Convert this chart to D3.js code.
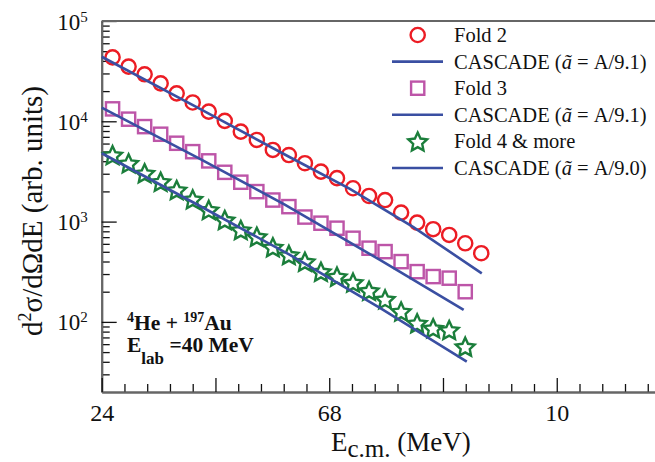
<!DOCTYPE html>
<html>
<head>
<meta charset="utf-8">
<script src="https://cdn.jsdelivr.net/npm/d3@7"></script>
<style>
  body { margin: 0; background: #fff; }
  svg { display: block; font-family: "Liberation Serif", "Times New Roman", serif; }
</style>
</head>
<body>
<div id="chart"></div>
<script>
//data
const energy = [26.1, 29.2, 32.3, 35.4, 38.5, 41.6, 44.7, 47.8, 50.9, 54.0, 57.1, 60.2,
  63.3, 66.4, 69.5, 72.6, 75.7, 78.8, 81.9, 85.0, 88.1, 91.2, 94.3, 97.4];
const fold2 = [43400, 35100, 29400, 23900, 19000, 15400, 12500, 10100, 7890, 6520, 5180, 4610,
  3820, 3150, 2710, 2150, 1800, 1640, 1230, 977, 840, 736, 608, 484];
const fold3 = [13300, 10500, 8850, 7430, 6040, 4980, 4030, 3100, 2470, 1990, 1640, 1410,
  1110, 964, 859, 682, 543, 502, 399, 317, 283, 273, 200];
const fold4 = [4610, 3820, 3040, 2500, 2070, 1670, 1310, 1040, 826, 708, 556, 466,
  399, 317, 283, 247, 205, 168, 127, 97, 86.5, 83.2, 56.7];

const cascadeE2 = [24, 43.0, 60.4, 72.0, 84.2, 97.5];
const cascade2 = [44000, 13300, 4380, 2120, 885, 305];
const cascadeE3 = [24, 43.0, 59.4, 77.8, 94.0];
const cascade3 = [13700, 4220, 1480, 415, 132];
const cascadeE4 = [24, 43.0, 60.4, 77.8, 94.6];
const cascade4 = [4800, 1430, 466, 138, 40.2];

const xMajorTicks = [24, 46, 68, 90, 112];
const xTickLabels = ["24", "", "68", "", "10"];
const yMajorTicks = [1e2, 1e3, 1e4, 1e5];
const yTickExponents = ["2", "3", "4", "5"];
const legendLabels = ["Fold 2", "CASCADE (ã = A/9.1)", "Fold 3", "CASCADE (ã = A/9.1)",
  "Fold 4 & more", "CASCADE (ã = A/9.0)"];

// outline star with fatter arms than d3.symbolStar
const fatStar = {
  draw(context, size) {
    const r = Math.sqrt(size) * 0.85, ri = r * 0.48;
    for (let k = 0; k < 10; k++) {
      const a = -Math.PI / 2 + k * Math.PI / 5, rr = k % 2 ? ri : r;
      k ? context.lineTo(rr * Math.cos(a), rr * Math.sin(a)) : context.moveTo(rr * Math.cos(a), rr * Math.sin(a));
    }
    context.closePath();
  }
};

function drawChart(cWidth, cHeight) {
  const margin = { left: 101.7, top: 21, right: 0, bottom: 70 },
    colors = { red: "#ec1c24", magenta: "#bd55a8", green: "#1b7e3b", blue: "#3a4fa2", frame: "#666" },
    serif = "Liberation Serif, Times New Roman, serif",
    nb = "\u00a0",
    svg = d3.select("#chart").append("svg")
      .attr("width", cWidth)
      .attr("height", cHeight);

  const x = d3.scaleLinear().domain([24, 131]).range([margin.left, cWidth - margin.right]),
    y = d3.scaleLog().domain([20, 1e5]).range([cHeight - margin.bottom, margin.top]);

  // minor / major ticks
  const yMinor = [];
  [10, 100, 1000, 10000].forEach(p => d3.range(2, 10).forEach(k => {
    if (k * p > 20 && k * p < 1e5) yMinor.push(k * p);
  }));
  const xMinor = d3.range(24, 131, 4.4).filter(v => !xMajorTicks.some(m => Math.abs(m - v) < 0.1));

  const styleAxis = g => {
    g.attr("font-family", serif);
    g.select(".domain").attr("stroke", colors.frame).attr("stroke-width", 2);
    g.selectAll(".tick line").attr("stroke", "#111").attr("stroke-width", 1.3);
  };

  svg.append("g")
    .attr("transform", `translate(${margin.left},0)`)
    .call(d3.axisLeft(y).tickValues(yMinor).tickSize(-8).tickSizeOuter(0).tickFormat(""))
    .call(styleAxis);
  const yAxis = svg.append("g")
    .attr("transform", `translate(${margin.left},0)`)
    .call(d3.axisLeft(y).tickValues(yMajorTicks).tickSize(-15).tickSizeOuter(0).tickFormat(""))
    .call(styleAxis);
  yAxis.selectAll(".tick text").remove();
  yAxis.selectAll(".tick").each(function (d, i) {
    const t = d3.select(this).append("text")
      .attr("x", -14)
      .attr("y", 8)
      .attr("text-anchor", "end")
      .attr("fill", "#111")
      .attr("font-size", 23);
    t.append("tspan").text("10");
    t.append("tspan").attr("font-size", 15).attr("dy", -8).text(yTickExponents[i]);
  });

  const xBase = cHeight - margin.bottom;
  svg.append("g")
    .attr("transform", `translate(0,${xBase})`)
    .call(d3.axisBottom(x).tickValues(xMinor).tickSize(-8).tickSizeOuter(0).tickFormat(""))
    .call(styleAxis);
  const xAxis = svg.append("g")
    .attr("transform", `translate(0,${xBase})`)
    .call(d3.axisBottom(x).tickValues(xMajorTicks).tickSize(-14).tickSizeOuter(0)
      .tickFormat((d, i) => xTickLabels[i]))
    .call(styleAxis);
  xAxis.selectAll(".tick text")
    .attr("y", 29)
    .attr("dy", 0)
    .attr("fill", "#111")
    .attr("font-size", 24);

  // top frame line
  svg.append("line")
    .attr("x1", margin.left).attr("x2", cWidth)
    .attr("y1", margin.top).attr("y2", margin.top)
    .attr("stroke", colors.frame).attr("stroke-width", 2);

  // markers
  const star = d3.symbol().type(fatStar).size(135);
  svg.append("g").selectAll("circle")
    .data(d3.zip(energy, fold2))
    .enter().append("circle")
    .attr("cx", d => x(d[0]))
    .attr("cy", d => y(d[1]))
    .attr("r", 7.1)
    .attr("fill", "white")
    .attr("stroke", colors.red)
    .attr("stroke-width", 2.4);
  svg.append("g").selectAll("rect")
    .data(d3.zip(energy, fold3))
    .enter().append("rect")
    .attr("x", d => x(d[0]) - 6.6)
    .attr("y", d => y(d[1]) - 6.6)
    .attr("width", 13.2)
    .attr("height", 13.2)
    .attr("fill", "white")
    .attr("stroke", colors.magenta)
    .attr("stroke-width", 2.4);
  svg.append("g").selectAll("path")
    .data(d3.zip(energy, fold4))
    .enter().append("path")
    .attr("transform", d => `translate(${x(d[0])},${y(d[1]) + 1})`)
    .attr("d", star)
    .attr("fill", "white")
    .attr("stroke", colors.green)
    .attr("stroke-width", 2.4);

  // cascade lines
  const line = d3.line().x(d => x(d[0])).y(d => y(d[1]));
  [[cascadeE2, cascade2], [cascadeE3, cascade3], [cascadeE4, cascade4]].forEach(c => {
    svg.append("path")
      .attr("d", line(d3.zip(c[0], c[1])))
      .attr("fill", "none")
      .attr("stroke", colors.blue)
      .attr("stroke-width", 2.6);
  });

  // legend
  const lg = svg.append("g");
  legendLabels.forEach((label, i) => {
    const cy = 35 + i * 26.6, sx = 417.7;
    if (i % 2 === 1) {
      lg.append("line").attr("x1", 392).attr("x2", 443).attr("y1", cy).attr("y2", cy)
        .attr("stroke", colors.blue).attr("stroke-width", 2.6);
    } else if (i === 0) {
      lg.append("circle").attr("cx", sx).attr("cy", cy).attr("r", 7.1)
        .attr("fill", "white").attr("stroke", colors.red).attr("stroke-width", 2.4);
    } else if (i === 2) {
      lg.append("rect").attr("x", sx - 6.6).attr("y", cy - 6.6).attr("width", 13.2).attr("height", 13.2)
        .attr("fill", "white").attr("stroke", colors.magenta).attr("stroke-width", 2.4);
    } else {
      lg.append("path").attr("transform", `translate(${sx},${cy + 1})`).attr("d", star)
        .attr("fill", "white").attr("stroke", colors.green).attr("stroke-width", 2.4);
    }
    const t = lg.append("text").attr("x", 454).attr("y", cy + 7)
      .attr("font-size", 20.5).attr("fill", "#111");
    const parts = label.split("ã");
    t.append("tspan").text(parts[0].replace(/ /g, nb));
    if (parts.length > 1) {
      t.append("tspan").attr("font-style", "italic").text("ã");
      t.append("tspan").text(parts[1].replace(/ /g, nb));
    }
  });

  // annotation
  const ann = svg.append("g").attr("font-weight", "bold").attr("fill", "#111");
  const a1 = ann.append("text").attr("x", 127).attr("y", 330).attr("font-size", 21.5);
  a1.append("tspan").attr("font-size", 14).attr("dy", -8).text("4");
  a1.append("tspan").attr("dy", 8).text(`He${nb}+${nb}`);
  a1.append("tspan").attr("font-size", 14).attr("dy", -8).text("197");
  a1.append("tspan").attr("dy", 8).text("Au");
  const a2 = ann.append("text").attr("x", 127).attr("y", 352).attr("font-size", 21.5);
  a2.append("tspan").text("E");
  a2.append("tspan").attr("font-size", 17).attr("dy", 12).text("lab");
  a2.append("tspan").attr("dy", -12).text(`${nb}=40${nb}MeV`);

  // axis titles
  const xt = svg.append("text").attr("x", 331).attr("y", 451).attr("font-size", 27).attr("fill", "#111");
  xt.append("tspan").text("E");
  xt.append("tspan").attr("font-size", 25).attr("dy", 6).text("c.m.");
  xt.append("tspan").attr("dy", -6).text(`${nb}(MeV)`);

  svg.append("text")
    .attr("transform", "translate(42,211) rotate(-90)")
    .attr("text-anchor", "middle")
    .attr("font-size", 29)
    .attr("fill", "#111")
    .call(t => {
      t.append("tspan").text("d");
      t.append("tspan").attr("font-size", 18).attr("dy", -11).text("2");
      t.append("tspan").attr("dy", 11).text(`σ/dΩdE${nb}(arb.${nb}units)`);
    });
}

drawChart(655, 462);
</script>
</body>
</html>
